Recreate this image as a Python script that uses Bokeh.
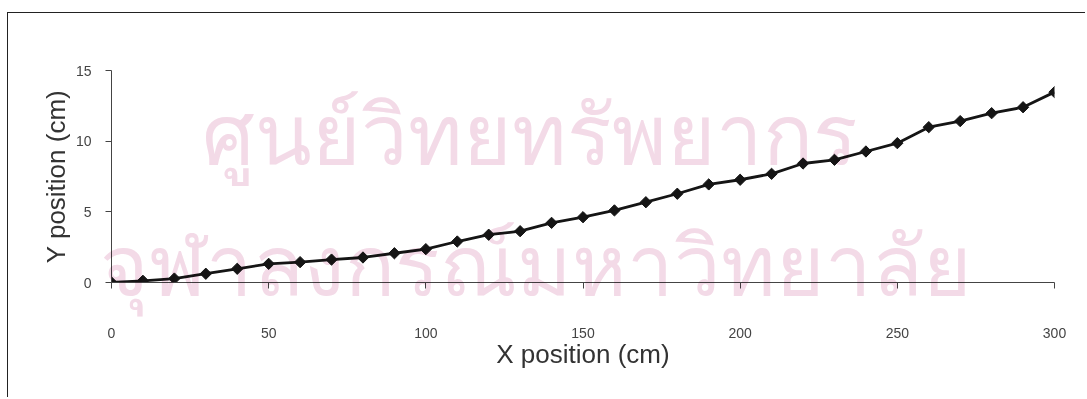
from bokeh.plotting import figure
from bokeh.models import Range1d, FixedTicker, Div
from bokeh.embed import file_html
from bokeh.resources import INLINE

x_cm = [0, 10, 20, 30, 40, 50, 60, 70, 80, 90, 100, 110, 120, 130, 140, 150,
        160, 170, 180, 190, 200, 210, 220, 230, 240, 250, 260, 270, 280, 290, 300]
y_cm = [0.0, 0.12, 0.28, 0.62, 0.97, 1.32, 1.44, 1.62, 1.77, 2.07, 2.36, 2.9, 3.38, 3.63, 4.22, 4.62,
        5.1, 5.68, 6.28, 6.94, 7.27, 7.69, 8.42, 8.68, 9.27, 9.86, 10.99, 11.42, 11.98, 12.4, 13.47]
x_ticks = [0, 50, 100, 150, 200, 250, 300]
y_ticks = [0, 5, 10, 15]
stamp_lines = ["ศูนย์วิทยทรัพยากร", "จุฬาลงกรณ์มหาวิทยาลัย"]

W, H = 1087, 399
p = figure(width=W, height=H, output_backend="svg", toolbar_location=None,
           x_range=Range1d(0, 300), y_range=Range1d(0, 15),
           min_border_left=111, min_border_right=33, min_border_top=70, min_border_bottom=117)
p.outline_line_color = None
p.xgrid.visible = False
p.ygrid.visible = False
p.background_fill_color = "white"
p.border_fill_color = "white"

p.line(x_cm, y_cm, line_color="#151515", line_width=2.8)
p.scatter(x_cm, y_cm, marker="square", angle=0.785, size=8,
          fill_color="#151515", line_color="#151515")

for ax in (p.xaxis[0], p.yaxis[0]):
    ax.axis_line_color = "#444444"
    ax.major_tick_line_color = "#444444"
    ax.minor_tick_line_color = None
    ax.major_label_text_font = "Liberation Sans"
    ax.major_label_text_font_size = "14px"
    ax.major_label_text_color = "#444444"
    ax.axis_label_text_font = "Liberation Sans"
    ax.axis_label_text_font_style = "normal"
    ax.axis_label_text_font_size = "26px"
    ax.axis_label_text_color = "#333333"
    ax.major_tick_out = 6
    ax.major_tick_in = 0

p.xaxis.ticker = FixedTicker(ticks=x_ticks)
p.yaxis.ticker = FixedTicker(ticks=y_ticks)
p.xaxis.axis_label = "X position (cm)"
p.yaxis.axis_label = "Y position (cm)"
p.xaxis.major_label_standoff = 39
p.xaxis.axis_label_standoff = -2
p.yaxis.major_label_standoff = 14
p.yaxis.axis_label_standoff = 2

stamp_style = {"position": "absolute", "font-family": "Noto Sans", "font-size": "83px",
               "line-height": "1", "white-space": "nowrap", "color": "#f3dae7",
               "mix-blend-mode": "multiply", "pointer-events": "none"}
wm1 = Div(text=stamp_lines[0], styles=dict(stamp_style, left="202px", top="90px"))
wm2 = Div(text=stamp_lines[1], styles=dict(stamp_style, left="100px", top="221px"))
frame_box = Div(text="", styles={"position": "absolute", "left": "7px", "top": "12px",
                                 "width": "1078px", "height": "385px",
                                 "border-top": "1.5px solid #222", "border-left": "1.5px solid #222",
                                 "pointer-events": "none"})
p.elements = [wm1, wm2, frame_box]

open("out.html", "w").write(file_html(p, INLINE))
